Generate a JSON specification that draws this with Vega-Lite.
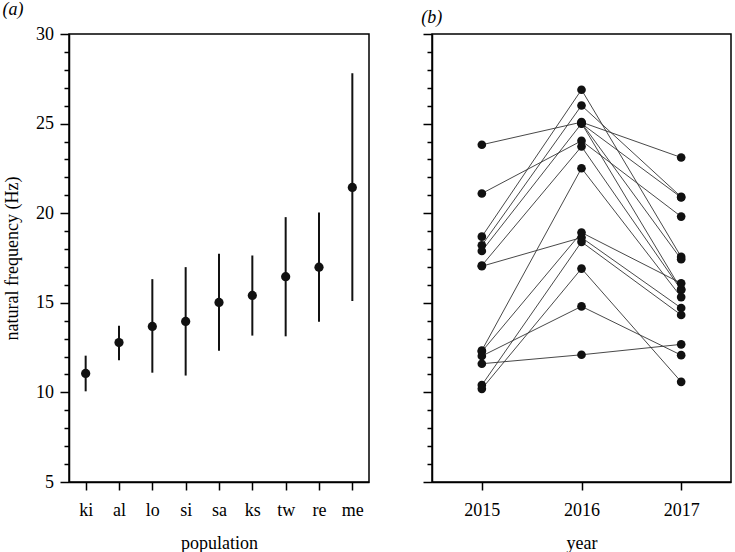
{
  "$schema": "https://vega.github.io/schema/vega-lite/v6.json",
  "padding": {"left": 1, "top": 0, "right": 2, "bottom": 0},
  "bounds": "flush",
  "spacing": 63,
  "config": {
    "view": {"stroke": "black", "strokeWidth": 1.5},
    "axis": {
      "domainColor": "black", "domainWidth": 1.5,
      "tickColor": "black", "tickWidth": 1.5,
      "labelFont": "Liberation Serif", "labelFontSize": 18, "labelColor": "black",
      "titleFont": "Liberation Serif", "titleFontSize": 18, "titleFontWeight": "normal", "titleColor": "black",
      "grid": false
    },
    "title": {"font": "Liberation Serif", "fontSize": 18, "fontStyle": "italic", "fontWeight": "normal", "anchor": "start", "frame": "bounds", "offset": 6, "color": "black"}
  },
  "datasets": {
    "pop": [
      {"population": "ki", "freq": 11.06, "lo": 10.06, "hi": 12.05},
      {"population": "al", "freq": 12.78, "lo": 11.79, "hi": 13.72},
      {"population": "lo", "freq": 13.68, "lo": 11.1, "hi": 16.32},
      {"population": "si", "freq": 13.96, "lo": 10.94, "hi": 16.99},
      {"population": "sa", "freq": 15.02, "lo": 12.32, "hi": 17.74},
      {"population": "ks", "freq": 15.41, "lo": 13.17, "hi": 17.64},
      {"population": "tw", "freq": 16.46, "lo": 13.13, "hi": 19.78},
      {"population": "re", "freq": 16.99, "lo": 13.94, "hi": 20.04},
      {"population": "me", "freq": 21.44, "lo": 15.1, "hi": 27.81}
    ],
    "years": [
      {"id": "A", "year": 2015, "freq": 23.82}, {"id": "A", "year": 2016, "freq": 25.08}, {"id": "A", "year": 2017, "freq": 23.11},
      {"id": "B", "year": 2015, "freq": 21.10}, {"id": "B", "year": 2016, "freq": 24.04}, {"id": "B", "year": 2017, "freq": 19.81},
      {"id": "C", "year": 2015, "freq": 18.69}, {"id": "C", "year": 2016, "freq": 26.89}, {"id": "C", "year": 2017, "freq": 17.56},
      {"id": "D", "year": 2015, "freq": 18.21}, {"id": "D", "year": 2016, "freq": 26.01}, {"id": "D", "year": 2017, "freq": 20.91},
      {"id": "E", "year": 2015, "freq": 17.89}, {"id": "E", "year": 2016, "freq": 25.00}, {"id": "E", "year": 2017, "freq": 20.88},
      {"id": "F", "year": 2015, "freq": 17.08}, {"id": "F", "year": 2016, "freq": 23.72}, {"id": "F", "year": 2017, "freq": 15.72},
      {"id": "G", "year": 2015, "freq": 17.04}, {"id": "G", "year": 2016, "freq": 18.64}, {"id": "G", "year": 2017, "freq": 14.71},
      {"id": "H", "year": 2016, "freq": 25.04}, {"id": "H", "year": 2017, "freq": 17.43},
      {"id": "I", "year": 2016, "freq": 25.02}, {"id": "I", "year": 2017, "freq": 15.75},
      {"id": "J", "year": 2015, "freq": 12.34}, {"id": "J", "year": 2016, "freq": 22.51}, {"id": "J", "year": 2017, "freq": 15.32},
      {"id": "K", "year": 2015, "freq": 12.28}, {"id": "K", "year": 2016, "freq": 18.92}, {"id": "K", "year": 2017, "freq": 16.09},
      {"id": "L", "year": 2015, "freq": 10.41}, {"id": "L", "year": 2016, "freq": 18.40}, {"id": "L", "year": 2017, "freq": 14.32},
      {"id": "M", "year": 2015, "freq": 12.03}, {"id": "M", "year": 2016, "freq": 14.80}, {"id": "M", "year": 2017, "freq": 12.08},
      {"id": "N", "year": 2015, "freq": 11.60}, {"id": "N", "year": 2016, "freq": 12.10}, {"id": "N", "year": 2017, "freq": 12.68},
      {"id": "O", "year": 2015, "freq": 10.20}, {"id": "O", "year": 2016, "freq": 16.91}, {"id": "O", "year": 2017, "freq": 10.59}
    ]
  },
  "hconcat": [
    {
      "title": {"text": "(a)", "dx": -1},
      "width": 300,
      "height": 448,
      "data": {"name": "pop"},
      "encoding": {
        "x": {
          "field": "population", "type": "nominal", "sort": null,
          "scale": {"type": "point", "padding": 0.5},
          "axis": {"title": "population", "labelAngle": 0, "tickSize": 8, "labelPadding": 11, "titlePadding": 15}
        },
        "y": {
          "field": "freq", "type": "quantitative",
          "scale": {"domain": [5, 30], "nice": false, "zero": false},
          "axis": {
            "title": "natural frequency (Hz)",
            "values": [5,6,7,8,9,10,11,12,13,14,15,16,17,18,19,20,21,22,23,24,25,26,27,28,29,30],
            "tickSize": {"condition": {"test": "datum.value % 5 === 0", "value": 9}, "value": 5},
            "labelExpr": "datum.value % 5 === 0 ? datum.label : ''",
            "labelOverlap": false,
            "labelPadding": 6.6,
            "titlePadding": 14
          }
        }
      },
      "layer": [
        {"mark": {"type": "rule", "color": "#111", "strokeWidth": 2}, "encoding": {"y": {"field": "lo", "type": "quantitative"}, "y2": {"field": "hi"}}},
        {"mark": {"type": "circle", "color": "#111", "opacity": 1, "size": 85}}
      ]
    },
    {
      "title": {"text": "(b)", "dx": -1},
      "width": 299,
      "height": 448,
      "data": {"name": "years"},
      "encoding": {
        "x": {
          "field": "year", "type": "quantitative",
          "scale": {"domain": [2014.5, 2017.5], "nice": false, "zero": false},
          "axis": {"title": "year", "values": [2015, 2016, 2017], "format": "d", "tickSize": 8, "labelPadding": 11, "titlePadding": 15, "labelFlush": false}
        },
        "y": {
          "field": "freq", "type": "quantitative",
          "scale": {"domain": [5, 30], "nice": false, "zero": false},
          "axis": {
            "title": null,
            "values": [5,6,7,8,9,10,11,12,13,14,15,16,17,18,19,20,21,22,23,24,25,26,27,28,29,30],
            "tickSize": {"condition": {"test": "datum.value % 5 === 0", "value": 9}, "value": 5},
            "labels": false
          }
        }
      },
      "layer": [
        {"mark": {"type": "line", "color": "#333", "strokeWidth": 0.9}, "encoding": {"detail": {"field": "id"}}},
        {"mark": {"type": "circle", "color": "#111", "opacity": 1, "size": 75}}
      ]
    }
  ]
}
